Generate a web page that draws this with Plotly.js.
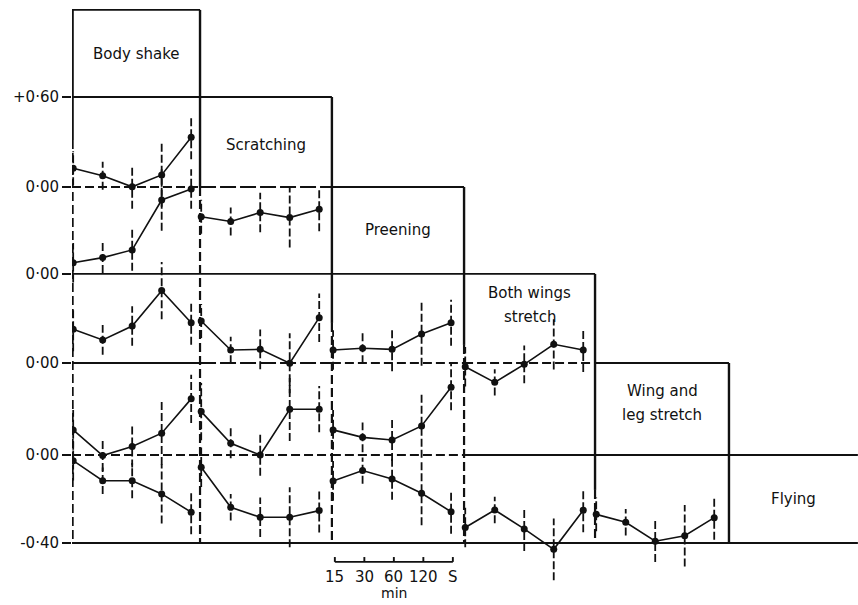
<!DOCTYPE html>
<html><head><meta charset="utf-8">
<script src="https://cdn.plot.ly/plotly-3.0.1.min.js"></script>
<style>html,body{margin:0;padding:0;background:#fff}#chart{width:858px;height:605px}</style>
</head><body><div id="chart"></div>
<script>
// ---- categories / labels ----
const behaviourLines = [["Body shake"],["Scratching"],["Preening"],["Both wings","stretch"],["Wing and","leg stretch"],["Flying"]];
const timeLabels = ["15","30","60","120","S"];
const timeUnit = "min";
const yTickText = ["+0·60","0·00","0·00","0·00","0·00","-0·40"];

// ---- series values (relative to each series' zero line) and half error bars ----
const bsScratchVal = [0.085, 0.051, 0.001, 0.055, 0.226];
const bsScratchErr = [0.077, 0.064, 0.100, 0.145, 0.100];
const bsPreenVal   = [0.051, 0.074, 0.109, 0.336, 0.386];
const bsPreenErr   = [0.090, 0.070, 0.095, 0.140, 0.090];
const bsBothVal    = [0.153, 0.105, 0.168, 0.329, 0.183];
const bsBothErr    = [0.100, 0.068, 0.090, 0.130, 0.100];
const bsWingLegVal = [0.114, -0.003, 0.038, 0.099, 0.255];
const bsWingLegErr = [0.090, 0.070, 0.095, 0.145, 0.110];
const bsFlyVal     = [-0.026, -0.117, -0.117, -0.177, -0.260];
const bsFlyErr     = [0.090, 0.060, 0.080, 0.135, 0.100];

const scPreenVal   = [0.260, 0.238, 0.279, 0.256, 0.294];
const scPreenErr   = [0.077, 0.064, 0.090, 0.136, 0.100];
const scBothVal    = [0.191, 0.059, 0.062, -0.001, 0.206];
const scBothErr    = [0.077, 0.060, 0.090, 0.136, 0.110];
const scWingLegVal = [0.197, 0.053, 0.000, 0.208, 0.208];
const scWingLegErr = [0.130, 0.068, 0.095, 0.145, 0.105];
const scFlyVal     = [-0.056, -0.238, -0.283, -0.283, -0.253];
const scFlyErr     = [0.090, 0.060, 0.090, 0.136, 0.100];

const prBothVal    = [0.059, 0.067, 0.062, 0.132, 0.183];
const prBothErr    = [0.090, 0.068, 0.100, 0.145, 0.105];
const prWingLegVal = [0.114, 0.080, 0.068, 0.132, 0.308];
const prWingLegErr = [0.090, 0.068, 0.095, 0.145, 0.105];
const prFlyVal     = [-0.118, -0.071, -0.109, -0.174, -0.258];
const prFlyErr     = [0.090, 0.060, 0.095, 0.145, 0.100];

const bwWingLegVal = [-0.017, -0.088, -0.006, 0.085, 0.059];
const bwWingLegErr = [0.090, 0.060, 0.086, 0.114, 0.100];
const bwFlyVal     = [-0.330, -0.250, -0.336, -0.429, -0.251];
const bwFlyErr     = [0.090, 0.060, 0.100, 0.140, 0.100];

const wlFlyVal     = [-0.270, -0.306, -0.392, -0.367, -0.285];
const wlFlyErr     = [0.077, 0.060, 0.095, 0.140, 0.100];

// ---- layout geometry (not data) ----
const colEdges = [0, 4.34, 8.81, 13.29, 17.73, 22.27, 26.64];
const bandTop  = [2.023, 1.627, 1.218, 0.823, 0.418, 0];
const bottomY  = -0.40;
const zeroLines = [1.218, 0.823, 0.418, 0];
const xOff = 0.04;

// series: [column, zero line index, values, errors]
const seriesList = [
  [0, 0, bsScratchVal, bsScratchErr],
  [0, 1, bsPreenVal, bsPreenErr],
  [0, 2, bsBothVal, bsBothErr],
  [0, 3, bsWingLegVal, bsWingLegErr],
  [0, 3, bsFlyVal, bsFlyErr],
  [1, 1, scPreenVal, scPreenErr],
  [1, 2, scBothVal, scBothErr],
  [1, 3, scWingLegVal, scWingLegErr],
  [1, 3, scFlyVal, scFlyErr],
  [2, 2, prBothVal, prBothErr],
  [2, 3, prWingLegVal, prWingLegErr],
  [2, 3, prFlyVal, prFlyErr],
  [3, 2, bwWingLegVal, bwWingLegErr],
  [3, 3, bwFlyVal, bwFlyErr],
  [4, 3, wlFlyVal, wlFlyErr]
];

const ink = '#111';
const traces = [];
const ebx = [], eby = [];
seriesList.forEach(([c, z, vals, errs]) => {
  const xs = vals.map((v, t) => colEdges[c] + xOff + t);
  const ys = vals.map(v => zeroLines[z] + v);
  xs.forEach((x, i) => { ebx.push(x, x, null); eby.push(ys[i] - errs[i], ys[i] + errs[i], null); });
  traces.push({x: xs, y: ys, mode: 'lines+markers', type: 'scatter',
    line: {color: ink, width: 1.6}, marker: {color: ink, size: 7}, hoverinfo: 'skip'});
});
traces.unshift({x: ebx, y: eby, mode: 'lines', type: 'scatter',
  line: {color: ink, width: 1.8, dash: '8px,3px'}, hoverinfo: 'skip'});

// ---- box lines ----
const shapes = [];
const L = (x0, y0, x1, y1, dash, w) => shapes.push({type: 'line', xref: 'x', yref: 'y', x0, y0, x1, y1,
  line: {color: ink, width: w || 2, dash: dash || 'solid'}});
const D = '9px,4px';
const DL = '16px,4px';
// horizontal lines, per column segment style
const hStyles = [
  ['s'], ['s','s'], ['d','l','s'], ['s','s','s','s'], ['s','l','d','d','s'], ['d','d','d','s','s','s']
];
hStyles.forEach((st, k) => {
  st.forEach((s, c) => L(colEdges[c], bandTop[k], colEdges[c + 1], bandTop[k],
    s === 'd' ? D : (s === 'l' ? DL : 'solid'), 1.9));
});
L(colEdges[0], bottomY, colEdges[6], bottomY, 'solid', 1.9);
// vertical lines: solid down to split, dashed below
const vSplit = [1.432, 1.218, 0.60, 0.50, -0.159, bottomY];
for (let c = 0; c < 6; c++) {
  const x = colEdges[c] + (c === 0 ? 0.02 : 0);
  const top = c === 0 ? bandTop[0] : bandTop[c - 1];
  L(x, top, x, vSplit[c], 'solid', 2.4);
  if (vSplit[c] > bottomY) L(x, vSplit[c], x, bottomY, D, 2.2);
}
// scale bar
const sbY = -0.486;
const sbX = timeLabels.map((_, t) => colEdges[2] + 0.1 + t);
L(sbX[0], sbY, sbX[4], sbY, 'solid', 1.9);
sbX.forEach(x => L(x, sbY, x, sbY + 0.022, 'solid', 1.9));

// ---- text ----
const font = {family: 'DejaVu Sans, Liberation Sans, sans-serif', size: 15, color: ink};
const annotations = [];
const headShift = [[-1], [-3], [0], [25, 1], [18, -6], [0]];
behaviourLines.forEach((lines, c) => {
  const cx = (colEdges[c] + colEdges[c + 1]) / 2;
  const cy = (bandTop[c] + (c < 5 ? bandTop[c + 1] : bottomY)) / 2;
  lines.forEach((txt, i) => annotations.push({x: cx, y: cy, xref: 'x', yref: 'y', text: txt,
    showarrow: false, font, yshift: headShift[c][i], xanchor: 'center', yanchor: 'middle'}));
});
timeLabels.forEach((t, i) => annotations.push({x: sbX[i], y: -0.553, xref: 'x', yref: 'y', text: t,
  showarrow: false, font, xanchor: 'center', yanchor: 'middle'}));
annotations.push({x: sbX[2], y: -0.627, xref: 'x', yref: 'y', text: timeUnit, showarrow: false,
  font: Object.assign({}, font, {size: 14}), xanchor: 'center', yanchor: 'middle'});

// the +0·60 tick sits on band 1 top; others on zero lines and bottom
const yTickVals = [bandTop[1], zeroLines[0], zeroLines[1], zeroLines[2], zeroLines[3], bottomY];

const layout = {
  width: 858, height: 605,
  margin: {l: 72, r: 0, t: 0, b: 0},
  paper_bgcolor: '#fff', plot_bgcolor: '#fff',
  showlegend: false,
  xaxis: {range: [0, 26.644], visible: false, fixedrange: true},
  yaxis: {range: [-0.682, 2.068], showgrid: false, zeroline: false, showline: false,
    tickmode: 'array', tickvals: yTickVals, ticktext: yTickText,
    ticks: 'outside', ticklen: 9, tickwidth: 1.9, tickcolor: ink,
    tickfont: {family: 'DejaVu Sans, sans-serif', size: 15, color: ink}, fixedrange: true},
  shapes, annotations
};
Plotly.newPlot('chart', traces, layout, {displayModeBar: false, staticPlot: true});
</script></body></html>
